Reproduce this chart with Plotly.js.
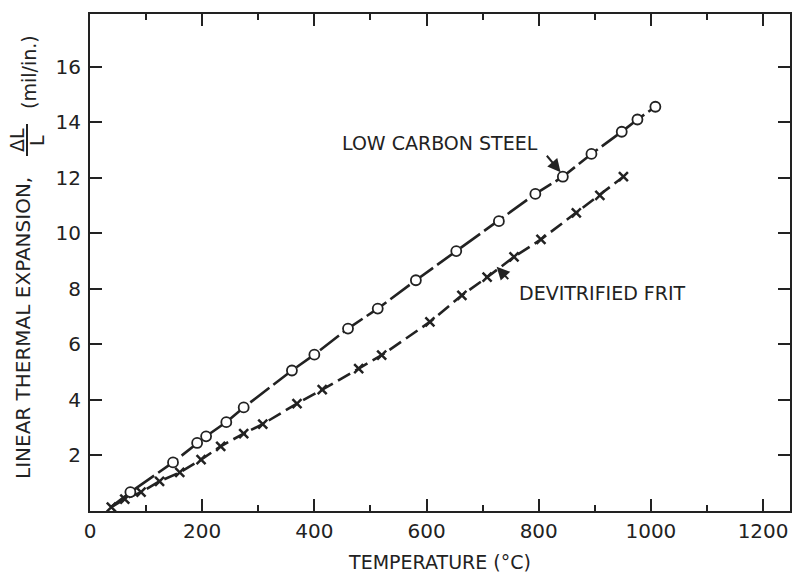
<!DOCTYPE html>
<html>
<head>
<meta charset="utf-8">
<script src="https://cdn.plot.ly/plotly-3.0.1.min.js"></script>
<style>html,body{margin:0;padding:0;background:#fff;}#chart{width:792px;height:574px;}</style>
</head>
<body>
<div id="chart"></div>
<script>
// Low carbon steel (open circles); first point is the line start near the origin
const steelTemperature = [38, 72, 148, 191, 207, 243, 274, 360, 400, 460, 513, 581, 653, 729, 794, 843, 894, 948, 976, 1008];
const steelExpansion   = [0.15, 0.68, 1.75, 2.45, 2.69, 3.2, 3.73, 5.06, 5.63, 6.57, 7.29, 8.31, 9.36, 10.44, 11.42, 12.04, 12.86, 13.66, 14.1, 14.56];
// Devitrified frit (x marks)
const fritTemperature = [38, 62, 91, 124, 160, 198, 233, 274, 308, 369, 414, 479, 520, 606, 663, 708, 756, 804, 867, 909, 951];
const fritExpansion   = [0.14, 0.43, 0.68, 1.07, 1.39, 1.85, 2.33, 2.79, 3.13, 3.87, 4.37, 5.13, 5.61, 6.81, 7.77, 8.42, 9.15, 9.78, 10.74, 11.37, 12.04];
// Tick labels
const xTickValues = [0, 200, 400, 600, 800, 1000, 1200];
const yTickValues = [2, 4, 6, 8, 10, 12, 14, 16];
const seriesNames = ['LOW CARBON STEEL', 'DEVITRIFIED FRIT'];

const ink = '#222';
const font = {family: 'DejaVu Sans, Liberation Sans, sans-serif', size: 19, color: ink};
const tickFont = {family: 'DejaVu Sans, Liberation Sans, sans-serif', size: 20, color: ink};

const traces = [
  {
    x: fritTemperature, y: fritExpansion, name: seriesNames[1], type: 'scatter', mode: 'lines+markers',
    line: {color: ink, width: 2.6, dash: '14px,6px'},
    marker: {symbol: 'x-thin-open', size: 9, color: ink, line: {color: ink, width: 2.5}}
  },
  {
    x: steelTemperature, y: steelExpansion, name: seriesNames[0], type: 'scatter', mode: 'lines+markers',
    line: {color: ink, width: 2.6, dash: '24px,5px'},
    marker: {symbol: 'circle', size: steelTemperature.map((_, i) => i === 0 ? 0 : 10), color: '#ffffff', opacity: 1, line: {color: ink, width: 1.8}}
  }
];

function px2paperX(p) { return (p - 90) / 700; }
function px2paperY(p) { return (511 - p) / 497; }

const layout = {
  width: 792, height: 574,
  margin: {l: 90, r: 2, t: 14, b: 63},
  paper_bgcolor: '#fff', plot_bgcolor: '#fff',
  showlegend: false,
  font: font,
  xaxis: {
    range: [0, 1248], tickvals: xTickValues, ticktext: xTickValues.map(String),
    ticks: 'inside', ticklen: 12, tickwidth: 2, tickcolor: ink,
    minor: {dtick: 100, tick0: 0, ticks: 'inside', ticklen: 6, tickwidth: 2, tickcolor: ink},
    showline: true, linewidth: 2, linecolor: ink, mirror: 'ticks',
    showgrid: false, zeroline: false, ticklabelstandoff: 1,
    tickfont: tickFont,
    title: {text: 'TEMPERATURE (°C)', font: font, standoff: 14}
  },
  yaxis: {
    range: [0, 17.9], tickvals: yTickValues, ticktext: yTickValues.map(String),
    ticks: 'inside', ticklen: 12, tickwidth: 2, tickcolor: ink,
    showline: true, linewidth: 2, linecolor: ink, mirror: 'ticks',
    showgrid: false, zeroline: false, ticklabelstandoff: 3,
    tickfont: tickFont
  },
  annotations: [
    {x: 624, y: 13.25, xref: 'x', yref: 'y', text: seriesNames[0], showarrow: false, font: font},
    {x: 914, y: 7.85, xref: 'x', yref: 'y', text: seriesNames[1], showarrow: false, font: font},
    {x: 839, y: 12.2, xref: 'x', yref: 'y', text: '', showarrow: true, arrowhead: 2, arrowsize: 1.3, arrowwidth: 2, arrowcolor: ink, ax: -15, ay: -18, standoff: 0},
    {x: 725, y: 8.8, xref: 'x', yref: 'y', text: '', showarrow: true, arrowhead: 2, arrowsize: 1.3, arrowwidth: 2, arrowcolor: ink, ax: 13, ay: 14, standoff: 0},
    {x: px2paperX(23), y: px2paperY(328), xref: 'paper', yref: 'paper', text: 'LINEAR THERMAL EXPANSION,', textangle: -90, showarrow: false, xanchor: 'center', yanchor: 'middle', font: {family: font.family, size: 20, color: ink}},
    {x: px2paperX(17), y: px2paperY(140), xref: 'paper', yref: 'paper', text: 'ΔL', textangle: -90, showarrow: false, xanchor: 'center', yanchor: 'middle', font: font},
    {x: px2paperX(37), y: px2paperY(140), xref: 'paper', yref: 'paper', text: 'L', textangle: -90, showarrow: false, xanchor: 'center', yanchor: 'middle', font: font},
    {x: px2paperX(29), y: px2paperY(72), xref: 'paper', yref: 'paper', text: '(mil/in.)', textangle: -90, showarrow: false, xanchor: 'center', yanchor: 'middle', font: font}
  ],
  shapes: [
    {type: 'line', xref: 'paper', yref: 'paper', x0: px2paperX(27), x1: px2paperX(27), y0: px2paperY(156), y1: px2paperY(124), line: {color: ink, width: 2}}
  ]
};

Plotly.newPlot('chart', traces, layout, {staticPlot: true, displayModeBar: false});
</script>
</body>
</html>
